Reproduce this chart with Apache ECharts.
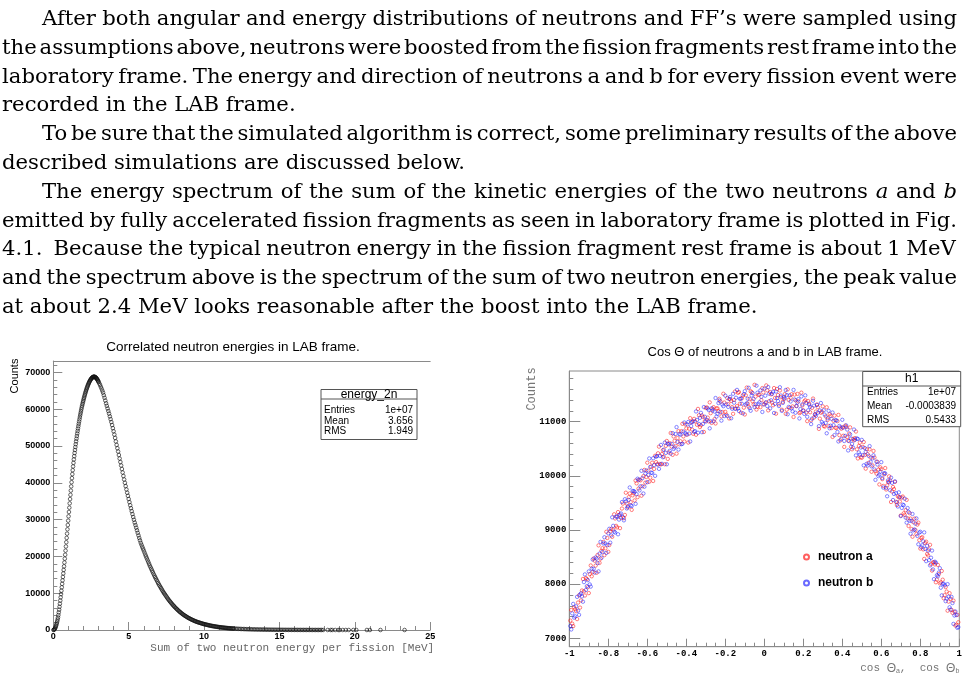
<!DOCTYPE html>
<html>
<head>
<meta charset="utf-8">
<script src="https://cdn.jsdelivr.net/npm/echarts@6/dist/echarts.min.js"></script>
<style>
  html, body { margin: 0; padding: 0; background: #fff; }
  #page { position: relative; width: 967px; height: 681px; overflow: hidden; background: #fff; }
  #chart { position: absolute; left: 0; top: 0; width: 967px; height: 681px; }
  #text { position: absolute; left: 0; top: 0; width: 967px; height: 330px; pointer-events: none; }
  .ln { position: absolute; white-space: nowrap; font-family: "DejaVu Serif", serif; color: #000; line-height: 30px; }
</style>
</head>
<body>
<div id="page">
  <div id="chart"></div>
  <div id="text"></div>
</div>
<script>
// ---------------- Text of the page ----------------
const paragraphLines = [
  "After both angular and energy distributions of neutrons and FF’s were sampled using",
  "the assumptions above, neutrons were boosted from the fission fragments rest frame into the",
  "laboratory frame. The energy and direction of neutrons a and b for every fission event were",
  "recorded in the LAB frame.",
  "To be sure that the simulated algorithm is correct, some preliminary results of the above",
  "described simulations are discussed below.",
  "The energy spectrum of the sum of the kinetic energies of the two neutrons <i>a</i> and <i>b</i>",
  "emitted by fully accelerated fission fragments as seen in laboratory frame is plotted in Fig.",
  "4.1.&nbsp; Because the typical neutron energy in the fission fragment rest frame is about 1 MeV",
  "and the spectrum above is the spectrum of the sum of two neutron energies, the peak value",
  "at about 2.4 MeV looks reasonable after the boost into the LAB frame."
];
const indentedLines = [0, 4, 6];
const paragraphEndLines = [3, 5, 10];

// ---------------- Left histogram: energy_2n ----------------
const energyTitle = "Correlated neutron energies in LAB frame.";
const energyAxisName = "Sum of two neutron energy per fission [MeV]";
const energyStats = { name: "energy_2n", rows: [["Entries", "1e+07"], ["Mean", "3.656"], ["RMS", "1.949"]] };
const energyMajorTicks = [0, 5, 10, 15, 20, 25];
const energyMinorTicks = [0,1,2,3,4,5,6,7,8,9,10,11,12,13,14,15,16,17,18,19,20,21,22,23,24,25];
const energyCountTicks = [0, 10000, 20000, 30000, 40000, 50000, 60000, 70000];
const energyCountMinorTicks = [0,2000,4000,6000,8000,10000,12000,14000,16000,18000,20000,22000,24000,26000,28000,30000,32000,34000,36000,38000,40000,42000,44000,46000,48000,50000,52000,54000,56000,58000,60000,62000,64000,66000,68000,70000,72000];

// bins 0 - 3 MeV, width 0.025 (centres from 0.0125)
const energyRiseStart = 0.0125, energyRiseStep = 0.025;
const energyRiseCounts = [
  10, 50, 140, 270, 440, 660, 920, 1230, 1580, 1970,
  2410, 2890, 3400, 4050, 4780, 5520, 6300, 7140, 8000, 8870,
  9760, 10680, 11600, 12540, 13480, 14420, 15370, 16320, 17300, 18340,
  19380, 20440, 21560, 22700, 23850, 25020, 26180, 27360, 28530, 29710,
  30890, 32070, 33240, 34410, 35580, 36730, 37880, 39030, 40160, 41270,
  42360, 43430, 44450, 45420, 46350, 47240, 48100, 48920, 49720, 50500,
  51260, 51990, 52710, 53400, 54080, 54740, 55390, 56030, 56650, 57260,
  57850, 58420, 58970, 59500, 60010, 60500, 60970, 61420, 61860, 62280,
  62690, 63090, 63480, 63860, 64230, 64580, 64920, 65250, 65560, 65860,
  66150, 66420, 66680, 66930, 67160, 67380, 67590, 67780, 67960, 68120,
  68270, 68400, 68520, 68620, 68700, 68760, 68800, 68820, 68820, 68800,
  68760, 68700, 68620, 68520, 68400, 68270, 68120, 67950, 67760, 67560
];
// 3 - 12 MeV, step 0.05
const energyFallStart = 3.0, energyFallStep = 0.05;
const energyFallCounts = [
  67400, 67000, 66600, 66100, 65600, 65050, 64500, 63800, 63100, 62350, 61600, 60900, 60200, 59500, 58800, 58050, 57300, 56500, 55700, 54850,
  54000, 53100, 52200, 51250, 50300, 49400, 48500, 47550, 46600, 45650, 44700, 43750, 42800, 41850, 40900, 40000, 39100, 38200, 37300, 36450,
  35600, 34750, 33900, 33100, 32300, 31500, 30700, 29950, 29200, 28500, 27800, 27100, 26400, 25700, 25000, 24350, 23700, 23150, 22600, 22100,
  21600, 21050, 20500, 20000, 19500, 19000, 18500, 18000, 17500, 17050, 16600, 16150, 15700, 15250, 14800, 14400, 14000, 13600, 13200, 12800,
  12400, 12050, 11700, 11350, 11000, 10650, 10300, 10000, 9700, 9400, 9100, 8800, 8500, 8220, 7950, 7700, 7450, 7200, 6950, 6720,
  6500, 6280, 6070, 5860, 5650, 5460, 5270, 5080, 4900, 4730, 4570, 4410, 4250, 4100, 3960, 3830, 3700, 3570, 3440, 3320,
  3200, 3090, 2990, 2890, 2790, 2690, 2600, 2510, 2420, 2330, 2250, 2180, 2110, 2040, 1980, 1910, 1850, 1780, 1720, 1660,
  1600, 1550, 1500, 1450, 1400, 1350, 1300, 1250, 1210, 1160, 1120, 1080, 1050, 1010, 980, 940, 910, 870, 840, 810,
  780, 750, 730, 700, 680, 650, 630, 600, 580, 560, 540, 520, 500, 485, 470, 455, 440, 425, 410, 395
];
// 12 - 18 MeV, step 0.1
const energyTailStart = 12.0, energyTailStep = 0.1;
const energyTailCounts = [
  380, 355, 335, 315, 295, 275, 258, 242, 226, 212,
  198, 185, 173, 162, 152, 142, 133, 124, 116, 109,
  102, 95, 89, 83, 78, 73, 68, 64, 60, 56,
  52, 49, 46, 43, 40, 37, 35, 33, 31, 29,
  27, 25, 24, 22, 21, 19, 18, 17, 16, 15,
  14, 13, 12, 11, 10, 9, 9, 8, 7, 7
];
// sparse non-empty bins beyond 18 MeV
const energyFarTailE = [18.2, 18.4, 18.5, 18.7, 18.9, 19.0, 19.2, 19.4, 19.6, 19.9, 20.1, 20.8, 21.0, 21.7, 23.3];
const energyFarTailCounts = [5, 4, 3, 3, 2, 2, 2, 2, 1, 1, 1, 1, 1, 1, 1];

// ---------------- Right histogram: cos theta ----------------
const cosTitle = "Cos Θ of neutrons a and b in LAB frame.";
const cosStats = { name: "h1", rows: [["Entries", "1e+07"], ["Mean", "-0.0003839"], ["RMS", "0.5433"]] };
const cosMajorTicks = [-1, -0.8, -0.6, -0.4, -0.2, 0, 0.2, 0.4, 0.6, 0.8, 1];
const cosMinorTicks = [-1,-0.95,-0.9,-0.85,-0.8,-0.75,-0.7,-0.65,-0.6,-0.55,-0.5,-0.45,-0.4,-0.35,-0.3,-0.25,-0.2,-0.15,-0.1,-0.05,0,0.05,0.1,0.15,0.2,0.25,0.3,0.35,0.4,0.45,0.5,0.55,0.6,0.65,0.7,0.75,0.8,0.85,0.9,0.95,1];
const cosCountTicks = [7000, 8000, 9000, 10000, 11000];
const cosCountMinorTicks = [7000,7200,7400,7600,7800,8000,8200,8400,8600,8800,9000,9200,9400,9600,9800,10000,10200,10400,10600,10800,11000,11200,11400,11600,11800];
// bins centred at -0.995, -0.985, ...
const cosBinStart = -0.995, cosBinStep = 0.01;
const neutronACounts = [
  7327, 7270, 7571, 7501, 7660, 7567, 7883, 7868, 8112, 7944,
  8185, 8145, 8474, 8342, 8538, 8393, 8617, 8780, 8662, 8852,
  8722, 9020, 9007, 9213, 9048, 9272, 9225, 9487, 9278, 9488,
  9606, 9514, 9640, 9546, 9861, 9764, 9917, 9808, 10109, 9979,
  10097, 9965, 10242, 10128, 10253, 10417, 10220, 10402, 10354, 10554,
  10313, 10602, 10540, 10727, 10553, 10698, 10582, 10825, 10728, 10950,
  10760, 10871, 10990, 10778, 11006, 10943, 11118, 10934, 11088, 11011,
  11264, 11006, 11157, 11238, 11047, 11246, 11194, 11371, 11178, 11354,
  11129, 11323, 11417, 11269, 11401, 11242, 11533, 11332, 11431, 11259,
  11487, 11333, 11419, 11544, 11319, 11463, 11275, 11498, 11399, 11540,
  11350, 11579, 11378, 11505, 11303, 11439, 11604, 11319, 11453, 11367,
  11509, 11221, 11402, 11443, 11282, 11501, 11289, 11377, 11173, 11299,
  11374, 11168, 11381, 11174, 11256, 11077, 11188, 11267, 11056, 11184,
  10921, 11098, 11034, 11138, 10883, 11016, 10888, 11010, 10751, 10870,
  10740, 10928, 10715, 10782, 10538, 10683, 10697, 10490, 10552, 10343,
  10534, 10384, 10492, 10240, 10337, 10193, 10338, 10042, 10115, 10157,
  9939, 10029, 9748, 9887, 9914, 9711, 9756, 9520, 9624, 9526,
  9598, 9308, 9367, 9215, 9312, 9018, 9143, 8997, 9100, 8812,
  8852, 8642, 8760, 8557, 8643, 8368, 8402, 8364, 8085, 8185,
  8034, 8082, 7798, 7863, 7677, 7730, 7471, 7491, 7250, 7297
];
const neutronBCounts = [
  7227, 7460, 7381, 7591, 7510, 7807, 7773, 8038, 7892, 8074,
  7995, 8285, 8284, 8492, 8388, 8563, 8487, 8750, 8752, 8722,
  9022, 8900, 9077, 8953, 9248, 9192, 9305, 9237, 9568, 9398,
  9556, 9454, 9720, 9706, 9661, 9924, 9807, 9958, 9799, 10099,
  10017, 10165, 10052, 10198, 10353, 10207, 10370, 10222, 10484, 10424,
  10593, 10462, 10590, 10497, 10773, 10628, 10772, 10585, 10818, 10790,
  10950, 10781, 10920, 11008, 10826, 11033, 10958, 11164, 10958, 11091,
  11034, 11216, 11007, 11208, 11187, 11096, 11344, 11181, 11318, 11104,
  11319, 11273, 11457, 11239, 11351, 11442, 11243, 11422, 11331, 11509,
  11317, 11423, 11249, 11484, 11419, 11323, 11535, 11358, 11459, 11320,
  11480, 11289, 11518, 11395, 11553, 11329, 11434, 11289, 11483, 11347,
  11429, 11491, 11272, 11373, 11192, 11411, 11289, 11417, 11233, 11319,
  11144, 11348, 11211, 11274, 11056, 11297, 11108, 11167, 11206, 10994,
  11211, 10978, 11064, 10878, 11053, 10936, 11028, 10810, 10921, 10680,
  10890, 10738, 10855, 10642, 10688, 10523, 10667, 10690, 10432, 10523,
  10384, 10514, 10222, 10370, 10257, 10323, 10118, 10262, 9995, 10077,
  9959, 10049, 9778, 9917, 9734, 9871, 9666, 9680, 9434, 9606,
  9408, 9458, 9227, 9405, 9172, 9168, 8993, 9117, 8890, 8952,
  8682, 8792, 8650, 8707, 8443, 8488, 8272, 8414, 8165, 8215,
  7934, 8002, 7978, 7733, 7767, 7530, 7651, 7421, 7430, 7207
];
// bins centred at -0.99, -0.98, ... (between the ones above)
const cosMidBinStart = -0.99, cosMidBinStep = 0.01;
const neutronAMidCounts = [
  7523, 7225, 7536, 7355, 7793, 7700, 8096, 7790, 8093, 7835,
  8345, 8225, 8433, 8210, 8716, 8470, 8664, 8536, 8967, 8597,
  8976, 8874, 9290, 9076, 9331, 9034, 9396, 9218, 9688, 9417,
  9675, 9372, 9678, 9913, 9607, 9931, 9633, 9994, 9874, 10243,
  9891, 10169, 9905, 10370, 10215, 10539, 10211, 10473, 10214, 10644,
  10433, 10791, 10388, 10645, 10410, 10825, 10639, 10961, 10634, 10875,
  10615, 11065, 10854, 11052, 10759, 11236, 10901, 11116, 10810, 11253,
  11075, 11357, 10978, 11268, 10967, 11245, 11423, 11100, 11516, 11181,
  11436, 11060, 11383, 11145, 11557, 11287, 11547, 11167, 11485, 11133,
  11630, 11276, 11562, 11377, 11681, 11224, 11497, 11269, 11620, 11320,
  11670, 11209, 11547, 11354, 11621, 11147, 11492, 11576, 11220, 11423,
  11145, 11597, 11257, 11507, 11087, 11395, 11513, 11160, 11536, 11211,
  11396, 11010, 11333, 11025, 11427, 11128, 11318, 10867, 11165, 11283,
  10910, 11266, 10921, 11106, 10719, 11112, 10884, 11125, 10655, 10895,
  10534, 10901, 10649, 10895, 10490, 10655, 10818, 10321, 10613, 10334,
  10624, 10133, 10401, 10489, 10075, 10460, 10085, 10259, 9841, 10123,
  9814, 10144, 9823, 9991, 9517, 9793, 9888, 9462, 9605, 9267,
  9618, 9278, 9556, 9074, 9211, 8876, 9210, 8924, 9136, 8657,
  8867, 8466, 8784, 8530, 8726, 8250, 8403, 8035, 8355, 8015,
  8243, 7740, 7946, 7510, 7833, 7525, 7696, 7235, 7433
];
const neutronBMidCounts = [
  7163, 7635, 7406, 7765, 7433, 7830, 7676, 8180, 7963, 8235,
  7955, 8455, 8213, 8470, 8236, 8780, 8594, 8866, 8577, 8937,
  8766, 9234, 8970, 9246, 8921, 9284, 9516, 9178, 9528, 9437,
  9785, 9442, 9718, 9483, 9947, 9731, 10093, 9674, 10044, 9883,
  10321, 10059, 10325, 10000, 10365, 10129, 10571, 10343, 10614, 10214,
  10583, 10411, 10788, 10525, 10900, 10485, 10759, 10591, 10984, 10765,
  10995, 10635, 10994, 10812, 11189, 10796, 11071, 10806, 11270, 11003,
  11245, 10877, 11248, 11008, 11437, 11145, 11393, 11020, 11286, 11481,
  11106, 11420, 11063, 11515, 11237, 11587, 11197, 11427, 11155, 11563,
  11340, 11626, 11202, 11527, 11271, 11664, 11327, 11579, 11180, 11610,
  11360, 11639, 11247, 11514, 11161, 11557, 11382, 11636, 11200, 11453,
  11585, 11137, 11487, 11247, 11587, 11165, 11353, 11060, 11466, 11201,
  11486, 11090, 11313, 10955, 11387, 11138, 11308, 10917, 11345, 10963,
  11130, 10786, 11201, 10926, 11169, 10752, 11024, 10635, 10895, 11035,
  10644, 10931, 10469, 10765, 10590, 10855, 10378, 10681, 10393, 10664,
  10194, 10443, 10191, 10549, 10175, 10380, 9925, 10209, 10021, 10253,
  9784, 10044, 9623, 9881, 9967, 9553, 9898, 9512, 9695, 9257,
  9468, 9578, 9136, 9334, 8931, 9296, 9010, 9214, 8736, 8967,
  8717, 8956, 8424, 8620, 8346, 8620, 8093, 8395, 8145, 8295,
  7793, 8010, 7686, 8000, 7573, 7765, 7266, 7495, 7193
];
const legendNames = ["neutron a", "neutron b"];

// ---------------- Build paragraph text ----------------
(function buildText() {
  const box = document.getElementById('text');
  const probe = document.createElement('div');
  probe.className = 'ln';
  probe.style.fontSize = '18px';
  probe.innerHTML = paragraphLines[paragraphLines.length - 1];
  box.appendChild(probe);
  const w18 = probe.getBoundingClientRect().width;
  box.removeChild(probe);
  const fs = 18 * 756 / w18;
  const rightEdge = 957;
  paragraphLines.forEach((html, i) => {
    const d = document.createElement('div');
    d.className = 'ln';
    d.style.fontSize = fs + 'px';
    const left = 2 + (indentedLines.includes(i) ? 40 : 0);
    d.style.left = left + 'px';
    d.innerHTML = html + '<span class="bm" style="display:inline-block;width:0;height:0;"></span>';
    box.appendChild(d);
    const bm = d.querySelector('.bm');
    const baseOff = bm.offsetTop;
    const baseline = 25 + 28.8 * i;
    d.style.top = (baseline - baseOff) + 'px';
    if (!paragraphEndLines.includes(i)) {
      const W = rightEdge - left;
      const w = d.getBoundingClientRect().width;
      if (w > W) {
        const spaces = (d.textContent.match(/ /g) || []).length || 1;
        d.style.wordSpacing = ((W - w) / spaces) + 'px';
      } else {
        d.style.width = W + 'px';
        d.style.textAlign = 'justify';
        d.style.textAlignLast = 'justify';
      }
    }
  });
})();

// ---------------- Chart ----------------
const energyData = []
  .concat(energyRiseCounts.map((c, j) => [energyRiseStart + energyRiseStep * j, c]))
  .concat(energyFallCounts.map((c, j) => [energyFallStart + energyFallStep * j, c]))
  .concat(energyTailCounts.map((c, j) => [energyTailStart + energyTailStep * j, c]))
  .concat(energyFarTailCounts.map((c, j) => [energyFarTailE[j], c]));
const neutronAData = neutronACounts.map((c, i) => [cosBinStart + cosBinStep * i, c])
  .concat(neutronAMidCounts.map((c, i) => [cosMidBinStart + cosMidBinStep * i, c]));
const neutronBData = neutronBCounts.map((c, i) => [cosBinStart + cosBinStep * i, c])
  .concat(neutronBMidCounts.map((c, i) => [cosMidBinStart + cosMidBinStep * i, c]));

const AX = '#8a8a8a';
const tickFont = { fontSize: 9, fontWeight: 'bold', fontFamily: 'Liberation Sans', color: '#000' };
const monoTickFont = { fontSize: 9, fontWeight: 'bold', fontFamily: 'Liberation Mono', color: '#000' };
const plain = v => String(v);

function statsBox(x, y, w, h, sepY, titleY, rowYs, stats, labelX, valueX) {
  const children = [
    { type: 'rect', shape: { x: x, y: y, width: w, height: h }, style: { fill: '#fff', stroke: '#555', lineWidth: 1 } },
    { type: 'line', shape: { x1: x, y1: sepY, x2: x + w, y2: sepY }, style: { stroke: '#555', lineWidth: 1 } },
    { type: 'text', x: x + w / 2, y: titleY, style: { text: stats.name, font: '12px "Liberation Sans"', fill: '#000', align: 'center', verticalAlign: 'middle' } }
  ];
  stats.rows.forEach((r, i) => {
    children.push({ type: 'text', x: labelX, y: rowYs[i], style: { text: r[0], font: '10px "Liberation Sans"', fill: '#000', align: 'left', verticalAlign: 'middle' } });
    children.push({ type: 'text', x: valueX, y: rowYs[i], style: { text: r[1], font: '10px "Liberation Sans"', fill: '#000', align: 'right', verticalAlign: 'middle' } });
  });
  return { type: 'group', z: 100, children: children };
}

const chart = echarts.init(document.getElementById('chart'), null, { renderer: 'canvas' });
chart.setOption({
  animation: false,
  backgroundColor: 'transparent',
  grid: [
    { left: 53.3, top: 361, width: 376.9, height: 269, show: false },
    { left: 569.3, top: 371, width: 390, height: 275.7, show: true, borderColor: AX, borderWidth: 1, backgroundColor: 'transparent' }
  ],
  xAxis: [
    { gridIndex: 0, type: 'value', min: 0, max: 25, position: 'bottom',
      axisLine: { show: true, onZero: false, lineStyle: { color: AX } },
      axisTick: { show: true, inside: true, length: 8, customValues: energyMajorTicks, lineStyle: { color: AX } },
      axisLabel: Object.assign({ show: true, customValues: energyMajorTicks, margin: 2, formatter: plain }, tickFont),
      splitLine: { show: false },
      name: energyAxisName, nameLocation: 'end', nameGap: 4,
      nameTextStyle: { fontFamily: 'Liberation Mono', fontSize: 11, color: '#666', align: 'right', verticalAlign: 'top', padding: [13, 0, 0, 0] } },
    { gridIndex: 0, type: 'value', min: 0, max: 25, position: 'bottom',
      axisLine: { show: false, onZero: false },
      axisTick: { show: true, inside: true, length: 4, customValues: energyMinorTicks, lineStyle: { color: AX } },
      axisLabel: { show: false }, splitLine: { show: false } },
    { gridIndex: 0, type: 'value', min: 0, max: 25, position: 'top',
      axisLine: { show: true, onZero: false, lineStyle: { color: AX } },
      axisTick: { show: false }, axisLabel: { show: false }, splitLine: { show: false } },
    { gridIndex: 1, type: 'value', min: -1, max: 1, position: 'bottom',
      axisLine: { show: true, onZero: false, lineStyle: { color: AX } },
      axisTick: { show: true, inside: true, length: 8, customValues: cosMajorTicks, lineStyle: { color: AX } },
      axisLabel: Object.assign({ show: true, customValues: cosMajorTicks, margin: 3, formatter: plain }, monoTickFont),
      splitLine: { show: false },
      name: '{m|cos }{g|Θ}{s|a}{m|,  cos }{g|Θ}{s|b}', nameLocation: 'end', nameGap: 0,
      nameTextStyle: { align: 'right', verticalAlign: 'top', padding: [15, 0, 0, 0],
        rich: {
          m: { fontFamily: 'Liberation Mono', fontSize: 11, color: '#777' },
          g: { fontFamily: 'Liberation Sans', fontSize: 12, color: '#777' },
          s: { fontFamily: 'Liberation Sans', fontSize: 7, color: '#777', padding: [6, 0, 0, 0] }
        } } },
    { gridIndex: 1, type: 'value', min: -1, max: 1, position: 'bottom',
      axisLine: { show: false, onZero: false },
      axisTick: { show: true, inside: true, length: 4, customValues: cosMinorTicks, lineStyle: { color: AX } },
      axisLabel: { show: false }, splitLine: { show: false } }
  ],
  yAxis: [
    { gridIndex: 0, type: 'value', min: 0, max: 73100, position: 'left',
      axisLine: { show: true, onZero: false, lineStyle: { color: AX } },
      axisTick: { show: true, inside: true, length: 9, customValues: energyCountTicks, lineStyle: { color: AX } },
      axisLabel: Object.assign({ show: true, customValues: energyCountTicks, margin: 3, formatter: plain }, tickFont),
      splitLine: { show: false } },
    { gridIndex: 0, type: 'value', min: 0, max: 73100, position: 'left',
      axisLine: { show: false, onZero: false },
      axisTick: { show: true, inside: true, length: 4, customValues: energyCountMinorTicks, lineStyle: { color: AX } },
      axisLabel: { show: false }, splitLine: { show: false } },
    { gridIndex: 1, type: 'value', min: 6845, max: 11936, position: 'left',
      axisLine: { show: true, onZero: false, lineStyle: { color: AX } },
      axisTick: { show: true, inside: true, length: 11, customValues: cosCountTicks, lineStyle: { color: AX } },
      axisLabel: Object.assign({ show: true, customValues: cosCountTicks, margin: 3, formatter: plain }, monoTickFont),
      splitLine: { show: false } },
    { gridIndex: 1, type: 'value', min: 6845, max: 11936, position: 'left',
      axisLine: { show: false, onZero: false },
      axisTick: { show: true, inside: true, length: 4, customValues: cosCountMinorTicks, lineStyle: { color: AX } },
      axisLabel: { show: false }, splitLine: { show: false } }
  ],
  legend: {
    data: legendNames, orient: 'vertical', left: 803, top: 551, padding: 0,
    itemWidth: 5, itemHeight: 5, itemGap: 14, icon: 'circle',
    textStyle: { fontFamily: 'Liberation Sans', fontSize: 12, fontWeight: 'bold', color: '#000', padding: [0, 0, 0, 4] },
    selectedMode: false
  },
  series: [
    { type: 'scatter', name: 'energy_2n', xAxisIndex: 0, yAxisIndex: 0, data: energyData,
      symbol: 'circle', symbolSize: 3.6, silent: true, emphasis: { disabled: true },
      itemStyle: { color: 'rgba(0,0,0,0)', borderColor: '#111', borderWidth: 0.8 } },
    { type: 'scatter', name: legendNames[0], xAxisIndex: 3, yAxisIndex: 2, data: neutronAData,
      symbol: 'circle', symbolSize: 3.4, silent: true, emphasis: { disabled: true },
      itemStyle: { color: 'rgba(255,0,0,0)', borderColor: 'rgba(255,20,20,0.85)', borderWidth: 0.8 } },
    { type: 'scatter', name: legendNames[1], xAxisIndex: 3, yAxisIndex: 2, data: neutronBData,
      symbol: 'circle', symbolSize: 3.4, silent: true, emphasis: { disabled: true },
      itemStyle: { color: 'rgba(0,0,255,0)', borderColor: 'rgba(20,20,255,0.8)', borderWidth: 0.8 } }
  ],
  graphic: [
    { type: 'text', x: 233, y: 347, style: { text: energyTitle, font: '13.5px "Liberation Sans"', fill: '#000', align: 'center', verticalAlign: 'middle' } },
    { type: 'text', x: 765, y: 352, style: { text: cosTitle, font: '13px "Liberation Sans"', fill: '#000', align: 'center', verticalAlign: 'middle' } },
    { type: 'text', x: 15, y: 376, rotation: Math.PI / 2, style: { text: 'Counts', font: '11px "Liberation Sans"', fill: '#000', align: 'center', verticalAlign: 'middle' } },
    { type: 'text', x: 532, y: 389, rotation: Math.PI / 2, style: { text: 'Counts', font: '12px "Liberation Mono"', fill: '#777', align: 'center', verticalAlign: 'middle' } },
    statsBox(321, 389.5, 96, 50, 399, 394.5, [410, 421, 431.7], energyStats, 324, 413),
    statsBox(862.7, 371.5, 98, 55.2, 386, 378.8, [392.5, 406.5, 420], cosStats, 867, 956)
  ]
});
</script>
</body>
</html>
